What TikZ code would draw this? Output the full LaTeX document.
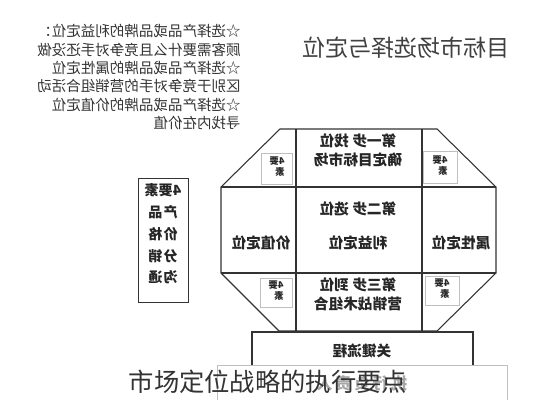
\documentclass[tikz,border=0pt]{standalone}
\usepackage{fontspec}
\usepackage{graphicx}
\setmainfont{Noto Sans CJK SC}
\newcommand{\mir}[1]{\reflectbox{#1}}
\newcommand{\mlines}[2]{\reflectbox{\begin{tabular}{@{}#1@{}}#2\end{tabular}}}
\tikzset{
  frame/.style={draw=black!80, line width=0.8pt},
  lightframe/.style={draw=black!25, line width=0.6pt},
  celltext/.style={font=\bfseries\fontsize{11}{14}\selectfont, text=black!85, inner sep=0pt},
  smalltext/.style={font=\bfseries\fontsize{7}{8.5}\selectfont, text=black!85, inner sep=0pt},
}
\begin{document}
\begin{tikzpicture}[x=0.75pt,y=-0.75pt]
\useasboundingbox (0,0) rectangle (533,400);
\fill[white] (0,0) rectangle (533,400);

% title and notes
\node[font=\fontsize{17.3}{20}\selectfont, text=black!75, inner sep=0pt] (title) at (406,48) {\mir{目标市场选择与定位}};
\node[anchor=east, font=\fontsize{10.9}{13.8}\selectfont, text=black!80, inner sep=0pt] (notes) at (241,79)
  {\mlines{l}{☆选择产品或品牌的利益定位：\\顾客需要什么且竞争对手还没做\\☆选择产品或品牌的属性定位\\区别于竞争对手的营销组合活动\\☆选择产品或品牌的价值定位\\寻找内在价值}};

% octagon
\draw[frame] (280,129) -- (437,129) -- (496,187) -- (496,273) -- (437,331) -- (279,331) -- (221,273) -- (221,187) -- cycle;
\draw[frame] (221,187) -- (496,187);
\draw[frame] (221,273) -- (496,273);
\draw[frame] (296,129) -- (296,331);
\draw[frame] (422,129) -- (422,331);

% key process and bottom boxes
\draw[frame] (252,365) -- (252,332) -- (473,332) -- (473,365);
\draw[lightframe] (252,365) -- (473,365);
\draw[lightframe] (217,400) -- (217,365) -- (507,365) -- (507,400);

% small 4-element boxes
\draw[lightframe] (261,153) rectangle (292,184);
\draw[lightframe] (423,151) rectangle (457,183);
\draw[lightframe] (260,278) rectangle (292,307);
\draw[lightframe] (425,276) rectangle (459,305);
\node[smalltext] (s1) at (277,168) {\mlines{l}{4要\\素}};
\node[smalltext] (s2) at (440,167) {\mlines{l}{4要\\素}};
\node[smalltext] (s3) at (276,292) {\mlines{l}{4要\\素}};
\node[smalltext] (s4) at (442,290) {\mlines{l}{4要\\素}};

% cell texts
\node[celltext] (step1) at (358,152) {\mlines{c}{第一步 找位\\确定目标市场}};
\node[celltext] (step2) at (358,209) {\mir{第二步 选位}};
\node[celltext] (benefit) at (358,243) {\mir{利益定位}};
\node[celltext] (value) at (261,243) {\mir{价值定位}};
\node[celltext] (attr) at (461,243) {\mir{属性定位}};
\node[celltext] (step3) at (358,296) {\mlines{c}{第三步 到位\\营销战术组合}};
\node[celltext] (key) at (362,351) {\mir{关键流程}};
\node[font=\bfseries\fontsize{12}{14}\selectfont, text=black!35, inner sep=0pt] (exec) at (362,383) {\mir{执\hspace{2pt}行\hspace{2pt}负\hspace{2pt}责\hspace{2pt}人}};

% left 4 elements box
\draw[frame, line width=0.7pt] (138,178) rectangle (188,302);
\node[font=\bfseries\fontsize{10.5}{16.3}\selectfont, text=black!85, inner sep=0pt] (elems) at (163,235)
  {\mlines{c}{4要素\\产\hspace{1pt}品\\价\hspace{1pt}格\\分\hspace{1pt}销\\沟\hspace{1pt}通}};

% caption
\node[font=\fontsize{19}{22}\selectfont, text=black!80, inner sep=0pt] (caption) at (268,382) {市场定位战略的执行要点};
\end{tikzpicture}
\end{document}
